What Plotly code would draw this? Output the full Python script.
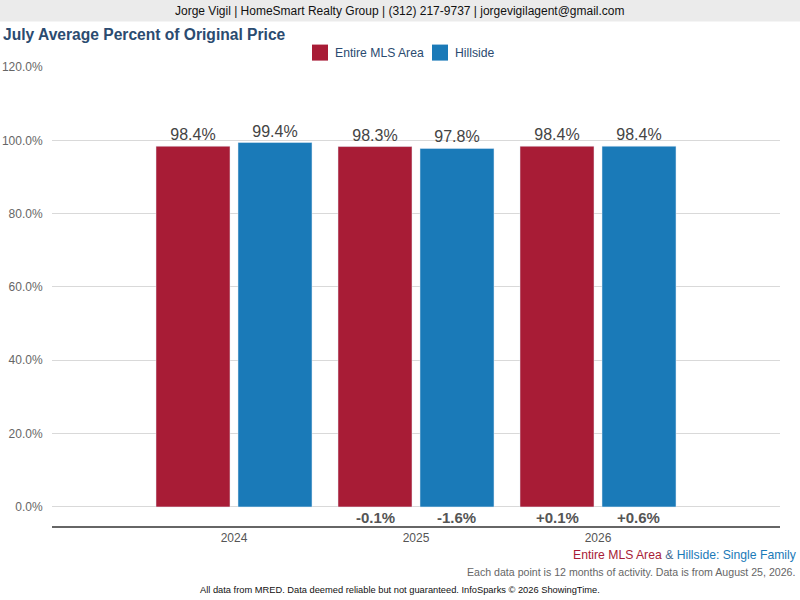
import plotly.graph_objects as go

years = ["2024", "2025", "2026"]
mls_values = [98.4, 98.3, 98.4]
hillside_values = [99.4, 97.8, 98.4]
mls_changes = ["", "-0.1%", "+0.1%"]
hillside_changes = ["", "-1.6%", "+0.6%"]
y_ticks = [0, 20, 40, 60, 80, 100, 120]
series_names = ["Entire MLS Area", "Hillside"]

RED = "#a81c36"
BLUE = "#1a7ab8"
TITLE_C = "#2b4b70"

W, H = 800, 600
L, R, T, B = 52, 20, 67.4, 74
pw, ph = W - L - R, H - T - B

def px(x):
    return (x - L) / pw

def py(y):
    return (H - B - y) / ph

fig = go.Figure()
fig.add_trace(go.Bar(
    name=series_names[0], x=years, y=mls_values, marker_color=RED,
    text=[f"{v:.1f}%" for v in mls_values], textposition="outside",
    textfont=dict(size=16, color="#444"), cliponaxis=False,
    hoverinfo="skip",
))
fig.add_trace(go.Bar(
    name=series_names[1], x=years, y=hillside_values, marker_color=BLUE,
    text=[f"{v:.1f}%" for v in hillside_values], textposition="outside",
    textfont=dict(size=16, color="#444"), cliponaxis=False,
    hoverinfo="skip",
))

annotations = []
for i, yr in enumerate(years):
    for off, ch in ((-0.225, mls_changes[i]), (0.225, hillside_changes[i])):
        if ch:
            annotations.append(dict(
                x=i + off, y=-3.0, xref="x", yref="y", text=f"<b>{ch}</b>",
                showarrow=False, font=dict(size=15, color="#555"),
                xanchor="center", yanchor="middle",
            ))

annotations += [
    dict(x=px(400), y=py(11), xref="paper", yref="paper",
         text="Jorge Vigil | HomeSmart Realty Group | (312) 217-9737 | jorgevigilagent@gmail.com",
         showarrow=False, font=dict(size=12, color="#111"), xanchor="center", yanchor="middle"),
    dict(x=px(1), y=py(35), xref="paper", yref="paper",
         text="<b>July Average Percent of Original Price</b>",
         showarrow=False, font=dict(size=15.6, color=TITLE_C), xanchor="left", yanchor="middle"),
    dict(x=px(333), y=py(53), xref="paper", yref="paper", text=series_names[0],
         showarrow=False, font=dict(size=12.2, color=TITLE_C), xanchor="left", yanchor="middle"),
    dict(x=px(453), y=py(53), xref="paper", yref="paper", text=series_names[1],
         showarrow=False, font=dict(size=12.2, color=TITLE_C), xanchor="left", yanchor="middle"),
    dict(x=px(799), y=py(555), xref="paper", yref="paper",
         text=f"<span style='color:{RED}'>Entire MLS Area</span><span style='color:#4a6a90'> &amp; </span><span style='color:{BLUE}'>Hillside: Single Family</span>",
         showarrow=False, font=dict(size=12.2), xanchor="right", yanchor="middle"),
    dict(x=px(797), y=py(572), xref="paper", yref="paper",
         text="Each data point is 12 months of activity. Data is from August 25, 2026.",
         showarrow=False, font=dict(size=10.6, color="#666"), xanchor="right", yanchor="middle"),
    dict(x=px(400), y=py(590), xref="paper", yref="paper",
         text="All data from MRED. Data deemed reliable but not guaranteed. InfoSparks © 2026 ShowingTime.",
         showarrow=False, font=dict(size=9.3, color="#111"), xanchor="center", yanchor="middle"),
]

shapes = [
    dict(type="rect", xref="paper", yref="paper", x0=px(0), x1=px(800),
         y0=py(22), y1=py(0), fillcolor="#ebebeb", line=dict(width=0), layer="below"),
    dict(type="rect", xref="paper", yref="paper", x0=px(312), x1=px(328),
         y0=py(61), y1=py(45), fillcolor=RED, line=dict(width=0)),
    dict(type="rect", xref="paper", yref="paper", x0=px(432), x1=px(448),
         y0=py(61), y1=py(45), fillcolor=BLUE, line=dict(width=0)),
]

fig.update_layout(
    width=W, height=H,
    margin=dict(l=L, r=R, t=T, b=B, autoexpand=False),
    paper_bgcolor="white", plot_bgcolor="white",
    font=dict(family="Liberation Sans, Arial, sans-serif"),
    barmode="group", bargap=0.099, bargroupgap=0.0976,
    showlegend=False,
    xaxis=dict(type="category", range=[-1, 3], showgrid=False, showline=True,
               linecolor="#666", linewidth=1.5, ticks="", tickfont=dict(size=12, color="#555"),
               zeroline=False, fixedrange=True),
    yaxis=dict(range=[-5.2, 120], tickvals=y_ticks, ticktext=[f"{v:.1f}%" for v in y_ticks],
               showgrid=True, gridcolor="#d9d9d9", gridwidth=1, zeroline=True, zerolinecolor="#d9d9d9",
               zerolinewidth=1, showline=False, tickfont=dict(size=12, color="#666"),
               ticks="outside", ticklen=6, tickcolor="rgba(0,0,0,0)", fixedrange=True),
    shapes=shapes,
    annotations=annotations,
)

fig.write_html("out.html", config={"displayModeBar": False},
               post_script="document.body.style.margin='0';document.body.style.overflow='hidden';")
